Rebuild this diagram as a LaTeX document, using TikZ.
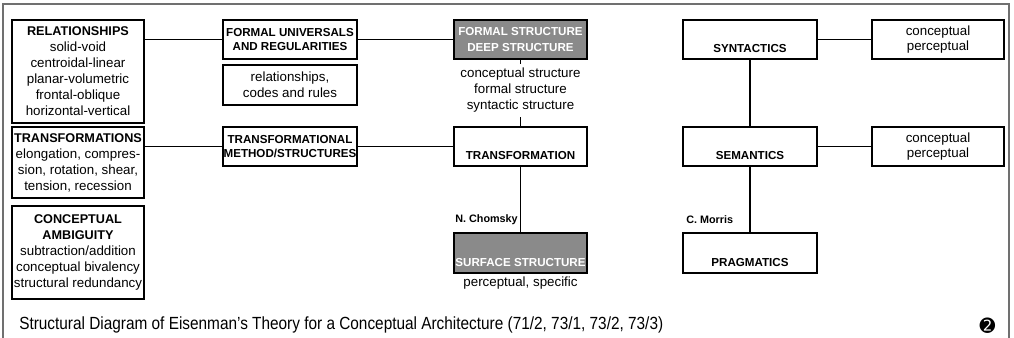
\documentclass[tikz,border=0pt]{standalone}
\usepackage{fontspec}
\usepackage{graphicx}
\setmainfont{Liberation Sans}
\newfontfamily\symfont{DejaVu Sans}
\definecolor{boxgray}{HTML}{8A8A8A}
\definecolor{framegray}{HTML}{707070}
\begin{document}
\begin{tikzpicture}[x=0.75pt,y=-0.75pt,
  box/.style n args={2}{draw=black, line width=0.85pt, inner sep=0pt, align=center,
    minimum width=#1*0.75pt, minimum height=#2*0.75pt},
  darkbox/.style={fill=boxgray},
  bodytext/.style={font=\fontsize{10}{12}\selectfont},
  subhead/.style={font=\bfseries\fontsize{8.7}{11}\selectfont},
  subheadw/.style={font=\bfseries\fontsize{8.7}{12}\selectfont, text=white},
  authorlabel/.style={font=\bfseries\fontsize{8.1}{10}\selectfont, inner sep=0pt},
  connector/.style={draw=black, line width=0.85pt}
]
\useasboundingbox (0,0) rectangle (1014,338);

% page frame, open at the bottom
\draw[framegray, line width=0.8pt] (3,338) -- (3,4) -- (1009,4) -- (1009,338);

% left column: formal categories
\node[box={132}{103}, bodytext] (rel) at (78,71.5)
  {{\bfseries\fontsize{9.5}{12}\selectfont RELATIONSHIPS}\\solid-void\\centroidal-linear\\planar-volumetric\\frontal-oblique\\horizontal-vertical};
\node[box={132}{71}, bodytext] (tf) at (78,162.5)
  {{\bfseries\fontsize{9.5}{12}\selectfont TRANSFORMATIONS}\\elongation, compres-\\sion, rotation, shear,\\tension, recession};
\node[box={132}{93}, bodytext] (ca) at (78,252.5)
  {{\bfseries\fontsize{9.5}{12}\selectfont CONCEPTUAL}\\{\bfseries\fontsize{9.5}{12}\selectfont AMBIGUITY}\\subtraction/addition\\conceptual bivalency\\structural redundancy};

% second column
\node[box={134}{39}, subhead] (fu) at (290,39.5) {FORMAL UNIVERSALS\\AND REGULARITIES};
\node[box={134}{40}, bodytext] (rc) at (290,85) {relationships,\\codes and rules};
\node[box={134}{39}, subhead] (tm) at (290,146.5) {TRANSFORMATIONAL\\METHOD/STRUCTURES};

% Chomsky column
\node[box={133}{39}, darkbox, subheadw] (fs) at (520.5,39.5) {FORMAL STRUCTURE\\DEEP STRUCTURE};
\node[bodytext, align=center, inner xsep=0pt, inner ysep=3.2pt] (fsnote) at (520.5,90.5)
  {conceptual structure\\formal structure\\syntactic structure};
\node[box={133}{39}] (tr) at (520.5,146.5) {};
\node[subhead, anchor=base, inner sep=0pt, yshift=5.4pt] (trT) at (tr.south) {TRANSFORMATION};
\node[box={133}{40}, darkbox] (ss) at (520.5,253) {};
\node[subheadw, anchor=base, inner sep=0pt, yshift=5.2pt] (ssT) at (ss.south) {SURFACE STRUCTURE};
\node[bodytext, anchor=north, inner sep=0pt] (ssnote) at ([yshift=-2.5pt]ss.south) {perceptual, specific};
\node[authorlabel, anchor=east] (chomsky) at (518,220) {N. Chomsky};

% Morris column
\node[box={134}{39}] (syn) at (750,39.5) {};
\node[subhead, anchor=base, inner sep=0pt, yshift=5.4pt] (synT) at (syn.south) {SYNTACTICS};
\node[box={134}{39}] (sem) at (750,146.5) {};
\node[subhead, anchor=base, inner sep=0pt, yshift=5.4pt] (semT) at (sem.south) {SEMANTICS};
\node[box={134}{40}] (prag) at (750,253) {};
\node[subhead, anchor=base, inner sep=0pt, yshift=5.2pt] (pragT) at (prag.south) {PRAGMATICS};
\node[authorlabel, anchor=west] (morris) at (686,220) {C. Morris};

% right column
\node[box={132}{39}, font=\fontsize{10}{11.5}\selectfont] (synr) at (938,39.5) {conceptual\\perceptual};
\node[box={132}{39}, font=\fontsize{10}{11.5}\selectfont] (semr) at (938,146.5) {conceptual\\perceptual};

% connectors
\draw[connector] (rel.east |- fu.west) -- (fu.west);
\draw[connector] (fu.east) -- (fs.west);
\draw[connector] (tf.east |- tm.west) -- (tm.west);
\draw[connector] (tm.east) -- (tr.west);
\draw[connector] (fs.south) -- (fsnote.north);
\draw[connector] (fsnote.south) -- (tr.north);
\draw[connector] (tr.south) -- (ss.north);
\draw[connector] (syn.east) -- (synr.west);
\draw[connector] (sem.east) -- (semr.west);
\draw[connector] (syn.south) -- (sem.north);
\draw[connector] (sem.south) -- (prag.north);

% caption and page number
\node[anchor=base west, inner sep=0pt] (caption) at (19,329.5)
  {\resizebox{483pt}{\height}{\fontsize{13.2}{15}\selectfont Structural Diagram of Eisenman’s Theory for a Conceptual Architecture (71/2, 73/1, 73/2, 73/3)}};
\node[inner sep=0pt] (pageno) at (987.5,326) {\symfont\fontsize{14}{14}\selectfont ➋};
\end{tikzpicture}
\end{document}
